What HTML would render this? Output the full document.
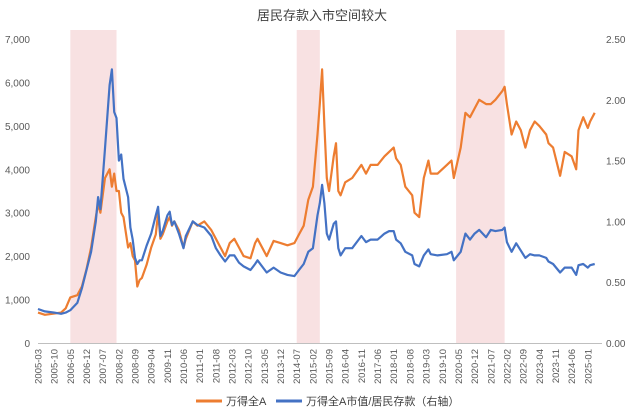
<!DOCTYPE html>
<html><head><meta charset="utf-8">
<style>
body{margin:0;background:#fff;}
svg{display:block;font-family:"Liberation Sans","Noto Sans CJK SC",sans-serif;}
</style></head>
<body>
<svg id="c" width="640" height="410">
<text x="322" y="20" text-anchor="middle" font-size="13" fill="#404040">居民存款入市空间较大</text>
<g id="shades"></g>
<g id="axes"></g>
<g id="lines"></g>
<g>
<line x1="196" y1="401" x2="222" y2="401" stroke="#ED7D31" stroke-width="3"/>
<text x="226" y="405" font-size="11" fill="#404040">万得全A</text>
<line x1="276" y1="401" x2="302" y2="401" stroke="#4472C4" stroke-width="3"/>
<text x="306" y="405" font-size="11" fill="#404040">万得全A市值/居民存款（右轴）</text>
</g>
</svg>
<script>
const leftTicks=[0,1000,2000,3000,4000,5000,6000,7000];
const leftTickLabels=["0","1,000","2,000","3,000","4,000","5,000","6,000","7,000"];
const rightTicks=[0,0.5,1,1.5,2,2.5];
const rightTickLabels=["0.00","0.50","1.00","1.50","2.00","2.50"];
const xLabels=["2005-03","2005-10","2006-05","2006-12","2007-07","2008-02","2008-09","2009-04","2009-11","2010-06","2011-01","2011-08","2012-03","2012-10","2013-05","2013-12","2014-07","2015-02","2015-09","2016-04","2016-11","2017-06","2018-01","2018-08","2019-03","2019-10","2020-05","2020-12","2021-07","2022-02","2022-09","2023-04","2023-11","2024-06","2025-01"];
const shadeRanges=[["2006-05","2008-01"],["2014-07","2015-05"],["2020-04","2022-01"]];
const windDates=["2005-03","2005-06","2005-10","2006-01","2006-03","2006-05","2006-08","2006-10","2006-12","2007-02","2007-04","2007-05","2007-06","2007-08","2007-10","2007-11","2007-12","2008-01","2008-02","2008-03","2008-04","2008-06","2008-07","2008-08","2008-09","2008-10","2008-11","2008-12","2009-02","2009-04","2009-06","2009-07","2009-08","2009-09","2009-11","2009-12","2010-01","2010-02","2010-04","2010-06","2010-07","2010-10","2010-12","2011-03","2011-06","2011-08","2011-10","2011-12","2012-02","2012-04","2012-06","2012-08","2012-11","2013-01","2013-02","2013-06","2013-09","2013-12","2014-03","2014-06","2014-08","2014-10","2014-12","2015-02","2015-04","2015-05","2015-06","2015-07","2015-08","2015-09","2015-11","2015-12","2016-01","2016-02","2016-04","2016-07","2016-11","2017-01","2017-03","2017-06","2017-09","2017-11","2018-01","2018-02","2018-04","2018-06","2018-09","2018-10","2018-12","2019-02","2019-04","2019-05","2019-08","2019-12","2020-02","2020-03","2020-06","2020-08","2020-10","2020-12","2021-02","2021-05","2021-07","2021-09","2021-12","2022-01","2022-02","2022-04","2022-06","2022-08","2022-10","2022-12","2023-02","2023-04","2023-07","2023-08","2023-10","2024-01","2024-03","2024-06","2024-08","2024-09","2024-11","2025-01","2025-02","2025-04"];
const windValues=[700,650,680,700,800,1050,1100,1300,1700,2200,2900,3200,3000,3800,4000,3600,3900,3500,3500,3000,2900,2200,2300,2000,1900,1300,1450,1500,1800,2200,2500,3000,2400,2500,2800,2900,2700,2800,2600,2200,2400,2800,2700,2800,2600,2400,2200,2000,2300,2400,2200,2000,1950,2300,2400,2000,2350,2300,2250,2300,2500,2700,3300,3600,4800,5500,6300,5000,3800,3500,4300,4600,3500,3400,3700,3800,4100,3900,4100,4100,4300,4400,4500,4250,4100,3600,3400,3000,2900,3800,4200,3900,3900,4100,4200,3800,4500,5300,5200,5400,5600,5500,5500,5600,5800,5900,5500,4800,5100,4900,4500,4900,5100,5000,4800,4600,4500,3850,4400,4300,4000,4900,5200,4950,5100,5300];
const ratioValues=[0.28,0.26,0.25,0.24,0.25,0.27,0.33,0.45,0.6,0.75,1.0,1.2,1.1,1.6,2.12,2.25,1.9,1.85,1.5,1.55,1.35,1.2,0.95,0.85,0.7,0.65,0.68,0.68,0.8,0.9,1.05,1.12,0.88,0.92,1.05,1.08,0.97,1.0,0.9,0.78,0.88,1.0,0.97,0.95,0.88,0.78,0.72,0.67,0.72,0.72,0.66,0.63,0.6,0.65,0.68,0.58,0.62,0.58,0.56,0.55,0.6,0.65,0.75,0.78,1.05,1.15,1.3,1.15,0.9,0.85,0.98,1.0,0.78,0.72,0.78,0.78,0.88,0.83,0.85,0.85,0.9,0.92,0.92,0.85,0.82,0.75,0.72,0.65,0.63,0.72,0.77,0.73,0.72,0.73,0.75,0.68,0.75,0.9,0.85,0.9,0.93,0.87,0.93,0.92,0.93,0.95,0.83,0.75,0.82,0.76,0.7,0.73,0.72,0.72,0.7,0.67,0.65,0.58,0.62,0.62,0.56,0.64,0.65,0.62,0.64,0.65];

const NS="http://www.w3.org/2000/svg";
const X0=38,PX=2.31,Y0=343,H=304;
function mIdx(d){const [y,m]=d.split("-").map(Number);return (y-2005)*12+(m-3);}
function xs(d){return X0+mIdx(d)*PX;}
function yl(v){return Y0-v/7000*H;}
function yr(v){return Y0-v/2.5*H;}
function mk(tag,attrs,parent){const e=document.createElementNS(NS,tag);for(const k in attrs)e.setAttribute(k,attrs[k]);parent.appendChild(e);return e;}
const shades=document.getElementById("shades"),axes=document.getElementById("axes"),lines=document.getElementById("lines");
shadeRanges.forEach((r,i)=>{
 const e=mk("rect",{x:xs(r[0]),y:30,width:xs(r[1])-xs(r[0]),height:Y0-30,fill:"#F8E1E2"},shades);
 
 
});
const ax=mk("line",{x1:X0,y1:Y0+0.5,x2:602,y2:Y0+0.5,stroke:"#bfbfbf","stroke-width":1},axes);


leftTicks.forEach((v,i)=>{
 const t=mk("text",{x:30,y:yl(v)+4,"text-anchor":"end","font-size":10,fill:"#595959"},axes);
 t.textContent=leftTickLabels[i];
 
 
});
rightTicks.forEach((v,i)=>{
 const t=mk("text",{x:606,y:yr(v)+4,"font-size":10,fill:"#595959"},axes);
 t.textContent=rightTickLabels[i];
 
 
});
xLabels.forEach(d=>{
 const x=xs(d)+3.5;
 const t=mk("text",{x:x,y:349,"text-anchor":"end","font-size":9.5,fill:"#595959",transform:`rotate(-90 ${x} 349)`},axes);
 t.textContent=d;
 
 
});
function path(vals,yf,color,name){
 const d=vals.map((v,i)=>(i?"L":"M")+xs(windDates[i]).toFixed(1)+","+yf(v).toFixed(1)).join("");
 const p=mk("path",{d:d,fill:"none",stroke:color,"stroke-width":2.2,"stroke-linejoin":"round"},lines);
 
 
}
path(windValues,yl,"#ED7D31","wind-all-a-line");
path(ratioValues,yr,"#4472C4","market-cap-deposit-ratio-line");
</script>
</body></html>
